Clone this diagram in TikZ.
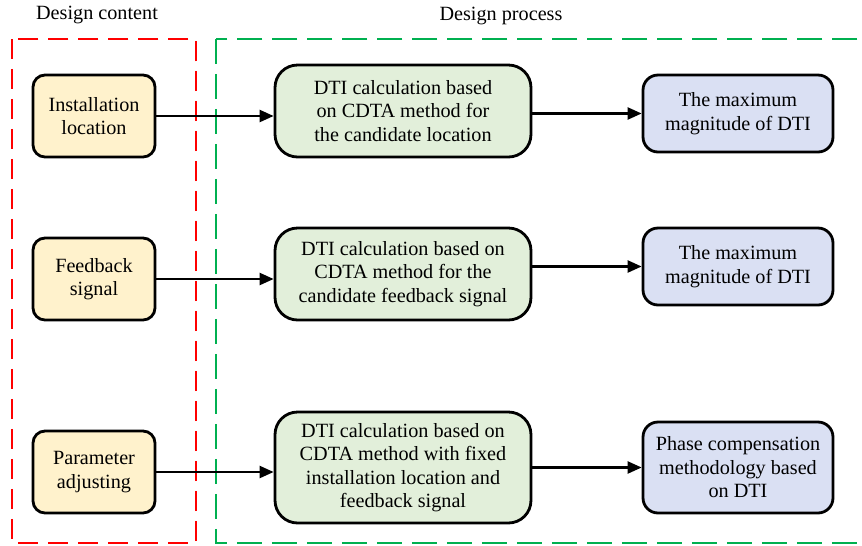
\documentclass[tikz,border=0pt]{standalone}
\usepackage{fontspec}
\setmainfont{Liberation Serif}
\usepackage{tikz}
\usetikzlibrary{arrows.meta, positioning, calc}
\usepackage{xcolor}
\definecolor{ContentRed}{HTML}{FF0000}
\definecolor{ProcessGreen}{HTML}{00B050}
\definecolor{Wheat}{HTML}{FFF2CC}
\definecolor{Sage}{HTML}{E2EFDA}
\definecolor{Lavender}{HTML}{DAE0F3}

\begin{document}
\begin{tikzpicture}[
    x=0.02cm, y=-0.02cm,
    every node/.style={font=\fontsize{11.5}{13.4}\selectfont},
    content/.style={draw=black, line width=1.6pt, fill=Wheat, rounded corners=0.24cm,
        minimum width=2.44cm, minimum height=1.64cm, align=center, inner sep=2pt},
    calc/.style={draw=black, line width=1.6pt, fill=Sage, rounded corners=0.45cm,
        minimum width=5.12cm, minimum height=1.84cm, align=center, inner sep=2pt},
    result/.style={draw=black, line width=1.6pt, fill=Lavender, rounded corners=0.3cm,
        minimum width=3.8cm, minimum height=1.54cm, align=center, inner sep=2pt},
    frame/.style={line width=1.5pt, dash pattern=on 0.4cm off 0.2cm},
    arr/.style={-{Triangle[length=2.8mm, width=2.4mm]}, line width=1.3pt},
]
\useasboundingbox (0,0) rectangle (862,545);
\clip (0,0) rectangle (862,545);

% === Group frames ===
\node (tcontent) at (97,15) {Design content};
\node (tprocess) at (501,16) {Design process};

\draw[frame, ContentRed] (12,39) rectangle (196,543);
\draw[frame, ProcessGreen, dash pattern=on 0.5cm off 0.2cm] (216,39) rectangle (890,543);

% =============================================
% DESIGN CONTENT
% =============================================
\node[content] (p1) at (94,116) {Installation\\location};
\node[content] (p2) at (94,279) {Feedback\\signal};
\node[content] (p3) at (94,472) {Parameter\\adjusting};

% =============================================
% DTI CALCULATION
% =============================================
\node[calc] (c1) at (403,111) {DTI calculation based\\on CDTA method for\\the candidate location};
\node[calc] (c2) at (403,274) {DTI calculation based on\\CDTA method for the\\candidate feedback signal};
\node[calc, minimum height=2.22cm] (c3) at (403,467.5)
    {DTI calculation based on\\CDTA method with fixed\\installation location and\\feedback signal};

% =============================================
% RESULTS
% =============================================
\node[result] (r1) at (738,113.5) {The maximum\\magnitude of DTI};
\node[result] (r2) at (738,266.5) {The maximum\\magnitude of DTI};
\node[result, minimum height=1.82cm] (r3) at (738,467.5)
    {Phase compensation\\methodology based\\on DTI};

% content -> calculation
\draw[arr] (p1.east) -- (p1.east -| c1.west);
\draw[arr] (p2.east) -- (p2.east -| c2.west);
\draw[arr] (p3.east) -- (p3.east -| c3.west);

% calculation -> result
\draw[arr] (c1.east |- r1.west) -- (r1.west);
\draw[arr] (c2.east |- r2.west) -- (r2.west);
\draw[arr] (c3.east |- r3.west) -- (r3.west);

\end{tikzpicture}
\end{document}
